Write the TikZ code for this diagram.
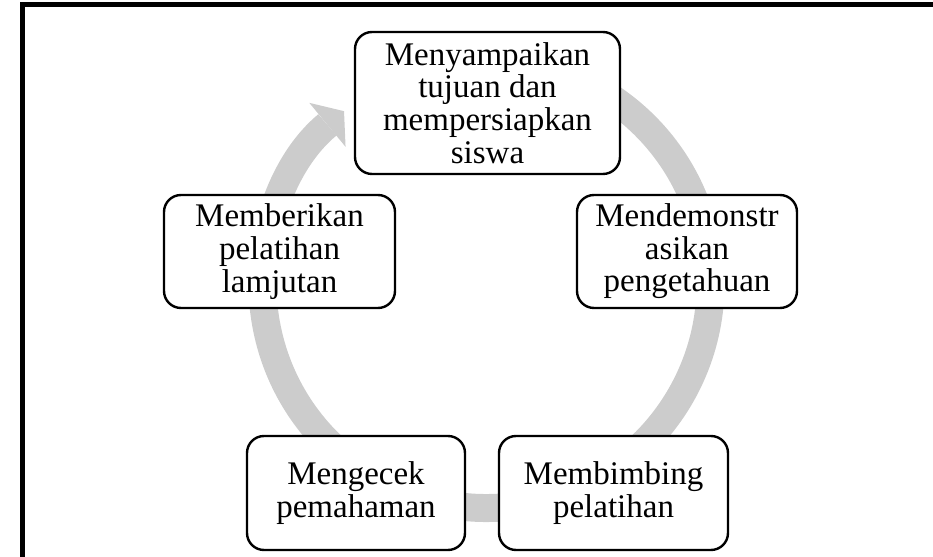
\documentclass[tikz,border=0pt]{standalone}
\usepackage{fontspec}
\setmainfont{Liberation Serif}
\usetikzlibrary{arrows.meta}
\tikzset{
  stage/.style={draw=black, line width=1.2pt, rounded corners=8.5pt, fill=white,
    align=center, inner sep=0pt},
}
\begin{document}
\begin{tikzpicture}[x=0.5pt, y=0.5pt, font=\fontsize{16.5}{16.3}\selectfont,
    >={Triangle[length=10.75pt, width=28.5pt, line width=0pt]}]
  \useasboundingbox (0,0) rectangle (933,557);
  \clip (0,0) rectangle (933,557);
  % page frame
  \draw[line width=2.5pt] (22.5,-20) |- (960,552.5);
  % cycle arrow
  \coordinate (hub) at (486.5,273);
  \draw[black!20, line width=14pt, ->] (hub) ++(100:224)
    arc[start angle=100, end angle=-230.5, radius=224];
  % stages
  \node[stage, minimum width=132.5pt, minimum height=71pt] (prepare) at (487.5,454)
    {Menyampaikan\\tujuan dan\\mempersiapkan\\siswa};
  \node[stage, minimum width=110pt, minimum height=56.5pt] (demo) at (687,305.5)
    {Mendemonstr\\asikan\\pengetahuan};
  \node[stage, minimum width=114.5pt, minimum height=57pt] (guide) at (613.5,64)
    {Membimbing\\pelatihan};
  \node[stage, minimum width=109pt, minimum height=57pt] (check) at (356,64)
    {Mengecek\\pemahaman};
  \node[stage, minimum width=115.5pt, minimum height=56.5pt] (advance) at (279.5,305.5)
    {Memberikan\\pelatihan\\lamjutan};
\end{tikzpicture}
\end{document}
